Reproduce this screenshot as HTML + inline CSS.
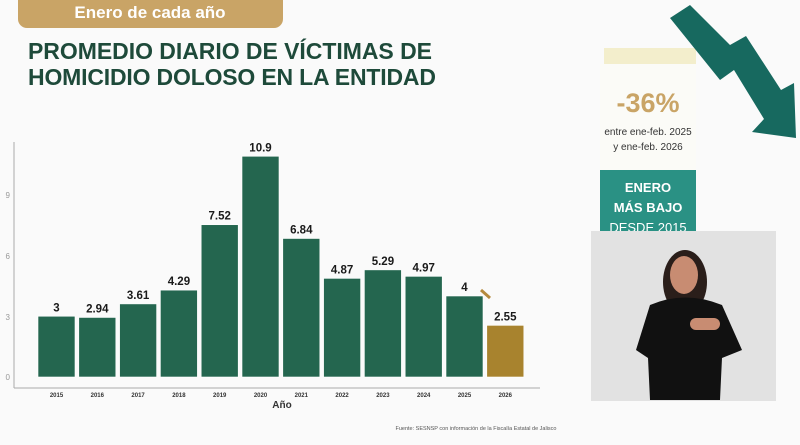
<!DOCTYPE html>
<html><head><meta charset="utf-8"><style>
body{margin:0;width:800px;height:440px;overflow:hidden;background:#fafafa;font-family:"Liberation Sans","DejaVu Sans",sans-serif}
</style></head><body>
<svg width="800" height="440" xmlns="http://www.w3.org/2000/svg" font-family="Liberation Sans, DejaVu Sans, sans-serif">
<rect width="800" height="440" fill="#fafafa"/>
<rect x="18" y="-10" width="265" height="38" rx="9" fill="#c9a466"/>
<text x="150" y="18" text-anchor="middle" font-size="17" font-weight="bold" fill="#fff">Enero de cada año</text>
<text x="28" y="59" font-size="23" font-weight="900" fill="#1e4a3a" textLength="404">PROMEDIO DIARIO DE VÍCTIMAS DE</text>
<text x="28" y="85" font-size="23" font-weight="900" fill="#1e4a3a" textLength="408">HOMICIDIO DOLOSO EN LA ENTIDAD</text>
<line x1="14" y1="142" x2="14" y2="388" stroke="#aaa" stroke-width="1"/>
<line x1="14" y1="388" x2="540" y2="388" stroke="#aaa" stroke-width="1"/>
<g font-size="8" fill="#999" text-anchor="end">
<text x="10" y="380">0</text><text x="10" y="320">3</text><text x="10" y="259">6</text><text x="10" y="198">9</text>
</g>
<g id="bars" font-weight="bold" text-anchor="middle"></g>
<text x="282" y="408" font-size="10" font-weight="bold" fill="#333" text-anchor="middle">Año</text>
<text x="476" y="430" font-size="5.5" fill="#555" text-anchor="middle">Fuente: SESNSP con información de la Fiscalía Estatal de Jalisco</text>
<line x1="481" y1="290" x2="490" y2="298" stroke="#b58a3e" stroke-width="3"/>
<rect x="604" y="48" width="92" height="20" fill="#f3eecc"/>
<rect x="600" y="64" width="96" height="108" fill="#fbfbf7"/>
<text x="648" y="112" font-size="27" font-weight="900" fill="#c9a466" text-anchor="middle">-36%</text>
<text x="648" y="135" font-size="10" fill="#333" text-anchor="middle">entre ene-feb. 2025</text>
<text x="648" y="150" font-size="10" fill="#333" text-anchor="middle">y ene-feb. 2026</text>
<rect x="600" y="170" width="96" height="62" fill="#2a9184"/>
<text x="648" y="192" font-size="13" font-weight="900" fill="#fff" text-anchor="middle">ENERO</text>
<text x="648" y="212" font-size="13" font-weight="900" fill="#fff" text-anchor="middle">MÁS BAJO</text>
<text x="648" y="232" font-size="13" fill="#fff" text-anchor="middle">DESDE 2015</text>
<polygon points="670,18 690,5 730,45 746,36 781,90 794,83 796,138 752,132 764,119 734,70 720,80" fill="#17695f"/>
<rect x="591" y="231" width="185" height="170" fill="#e2e2e2"/>
<ellipse cx="685" cy="282" rx="22" ry="32" fill="#2a1e1a"/>
<ellipse cx="684" cy="275" rx="14" ry="19" fill="#c88c72"/>
<path d="M650 305 Q685 290 722 305 L742 350 L722 358 L720 400 L650 400 L648 358 L636 350 Z" fill="#111"/>
<rect x="690" y="318" width="30" height="12" rx="6" fill="#c88c72"/>
</svg>
<script>
var v=[3,2.94,3.61,4.29,7.52,10.9,6.84,4.87,5.29,4.97,4,2.55];
var g=document.getElementById('bars'),s='';
for(var i=0;i<12;i++){var x=38+i*40.8,h=v[i]*20.25,y=377-h;
s+='<rect x="'+x+'" y="'+y+'" width="37" height="'+h+'" fill="'+(i==11?'#a8832e':'#24664f')+'" stroke="#fff" stroke-width="0.6"/>';
s+='<text x="'+(x+18.5)+'" y="'+(y-5)+'" font-size="11.5" fill="#1a1a1a">'+v[i]+'</text>';
s+='<text x="'+(x+18.5)+'" y="397" font-size="6" fill="#333">'+(2015+i)+'</text>';}
g.innerHTML=s;
</script>
</body></html>
